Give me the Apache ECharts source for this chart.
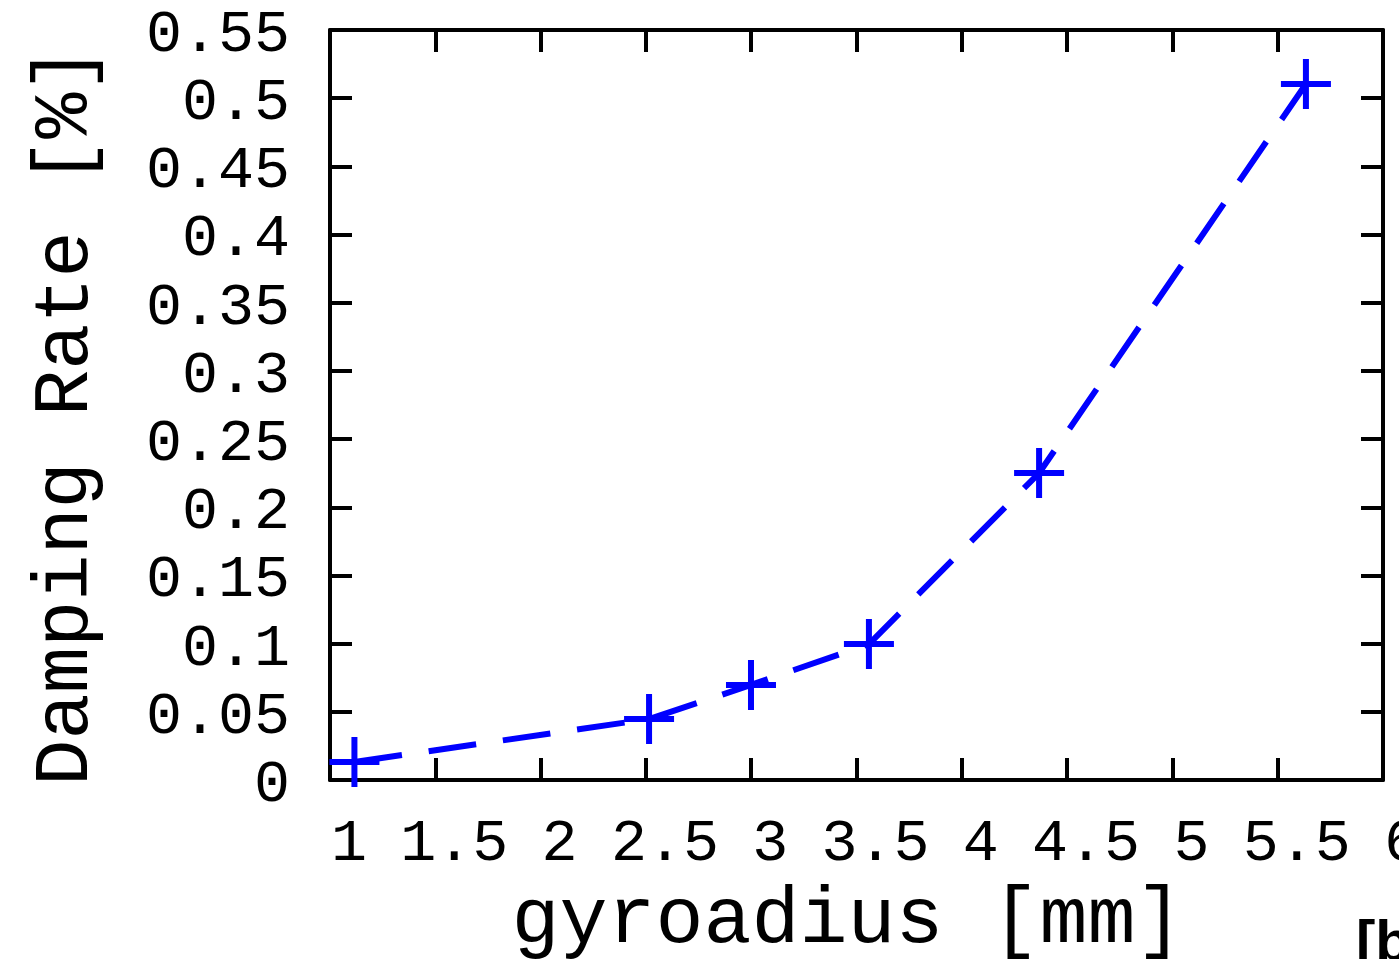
<!DOCTYPE html>
<html>
<head>
<meta charset="utf-8">
<script src="https://cdn.jsdelivr.net/npm/echarts@6/dist/echarts.min.js"></script>
<style>
html,body{margin:0;padding:0;background:#fff;}
#chart{width:1399px;height:959px;}
</style>
</head>
<body>
<div id="chart"></div>
<script>
// Data
const gyroradius = [1.116, 2.515, 2.999, 3.559, 4.367, 5.634];
const dampingRate = [0.0132, 0.0447, 0.0697, 0.0997, 0.2251, 0.5104];
const xTicks = [1, 1.5, 2, 2.5, 3, 3.5, 4, 4.5, 5, 5.5, 6];
const yTicks = [0, 0.05, 0.1, 0.15, 0.2, 0.25, 0.3, 0.35, 0.4, 0.45, 0.5, 0.55];
const xTitle = 'gyroadius [mm]';
const yTitle = 'Damping Rate [%]';
const panelLabel = '[b]';

const FONT = "'Liberation Mono', 'DejaVu Sans Mono', monospace";
const points = gyroradius.map((x, i) => [x, dampingRate[i]]);

const axisLine = { show: true, onZero: false, lineStyle: { color: '#000', width: 4 } };
const axisTick = { show: true, inside: true, length: 22, lineStyle: { color: '#000', width: 4 } };

const chart = echarts.init(document.getElementById('chart'), null, { renderer: 'canvas' });
chart.setOption({
  backgroundColor: '#fff',
  animation: false,
  title: {
    text: panelLabel,
    left: 1351,
    top: 911,
    textStyle: { fontFamily: "'Liberation Sans', Arial, sans-serif", fontWeight: 'bold', fontSize: 58, color: '#000' }
  },
  grid: { left: 330, top: 30, right: 16, bottom: 179, containLabel: false, outerBoundsMode: 'none' },
  xAxis: [
    {
      type: 'value', position: 'bottom',
      min: xTicks[0], max: xTicks[xTicks.length - 1], interval: 0.5,
      axisLine, axisTick, splitLine: { show: false },
      axisLabel: {
        show: true, margin: 34, color: '#000', fontFamily: FONT, fontSize: 60,
        padding: [0, 0, 0, 38], hideOverlap: false,
        formatter: v => String(v)
      },
      name: xTitle, nameLocation: 'middle', nameGap: 101,
      nameTextStyle: { fontFamily: FONT, fontSize: 80, color: '#000', padding: [0, 18, 0, 0] }
    },
    {
      type: 'value', position: 'top',
      min: xTicks[0], max: xTicks[xTicks.length - 1], interval: 0.5,
      axisLine, axisTick, axisLabel: { show: false }, splitLine: { show: false }
    }
  ],
  yAxis: [
    {
      type: 'value', position: 'left',
      min: yTicks[0], max: yTicks[yTicks.length - 1], interval: 0.05,
      axisLine, axisTick, splitLine: { show: false },
      axisLabel: {
        show: true, margin: 40, color: '#000', fontFamily: FONT, fontSize: 60,
        verticalAlign: 'top', lineHeight: 10, hideOverlap: false,
        formatter: v => String(Math.round(v * 100) / 100)
      },
      name: yTitle, nameLocation: 'middle', nameGap: 225,
      nameTextStyle: { fontFamily: FONT, fontSize: 77, color: '#000', padding: [0, 22, 0, 0] }
    },
    {
      type: 'value', position: 'right',
      min: yTicks[0], max: yTicks[yTicks.length - 1], interval: 0.05,
      axisLine, axisTick, axisLabel: { show: false }, splitLine: { show: false }
    }
  ],
  series: [
    {
      type: 'line',
      data: points,
      xAxisIndex: 0, yAxisIndex: 0,
      clip: false,
      symbol: 'path://M22,0H28V22H50V28H28V50H22V28H0V22H22Z',
      symbolSize: 50,
      itemStyle: { color: '#0000ff' },
      lineStyle: { color: '#0000ff', width: 6, type: [48, 27] }
    }
  ]
});
</script>
</body>
</html>
